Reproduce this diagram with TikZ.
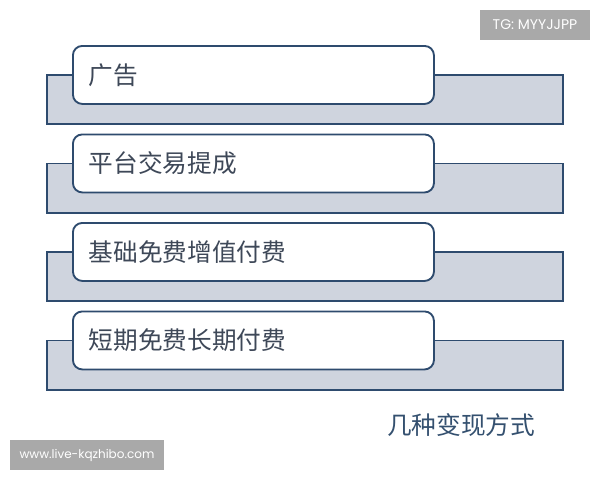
\documentclass[tikz,border=0pt]{standalone}
\usepackage{fontspec}
\newfontfamily\cjk{Noto Sans CJK SC}
\newfontfamily\wmfont{Poppins}
\definecolor{edgeblue}{HTML}{2E4B6E}
\definecolor{barfill}{HTML}{CFD4DE}
\definecolor{txtgray}{HTML}{3E4858}
\definecolor{capblue}{HTML}{34506F}
\definecolor{wmgray}{HTML}{A9A9A9}

\begin{document}
\begin{tikzpicture}[x=0.75pt, y=-0.75pt,
  bar/.style={draw=edgeblue, fill=barfill, line width=1.4pt, anchor=north west,
    inner sep=0pt, minimum width=387pt, minimum height=37pt},
  item/.style={draw=edgeblue, fill=white, line width=1.4pt, rounded corners=7pt,
    anchor=north west, inner xsep=12pt, inner ysep=0pt, minimum height=43.5pt,
    text width=246.75pt, align=left, font=\cjk\fontsize{18.5}{20}\selectfont,
    text=txtgray},
  wmbox/.style={fill=wmgray, text=white, inner sep=0pt, minimum height=22.5pt,
    font=\wmfont\fontsize{9}{10}\selectfont}]
  \useasboundingbox (0,0) rectangle (600,480);

  \foreach \i/\txt in {0/广告, 1/平台交易提成, 2/基础免费增值付费, 3/短期免费长期付费} {
    \pgfmathsetmacro{\ytop}{74 + \i*88.5}
    \node[bar] (bar\i) at (46,\ytop) {};
    \node[item] (item\i) at (72,{\ytop-29}) {\txt};
  }

  \node[font=\cjk\fontsize{18.5}{20}\selectfont, text=capblue] (caption) at (461,425) {几种变现方式};

  \node[wmbox, minimum width=82.5pt, font=\wmfont\fontsize{10.5}{12}\selectfont] (tg) at (535,25) {TG: MYYJJPP};
  \node[wmbox, minimum width=115.5pt] (site) at (87,455) {www.live-kqzhibo.com};
\end{tikzpicture}
\end{document}
